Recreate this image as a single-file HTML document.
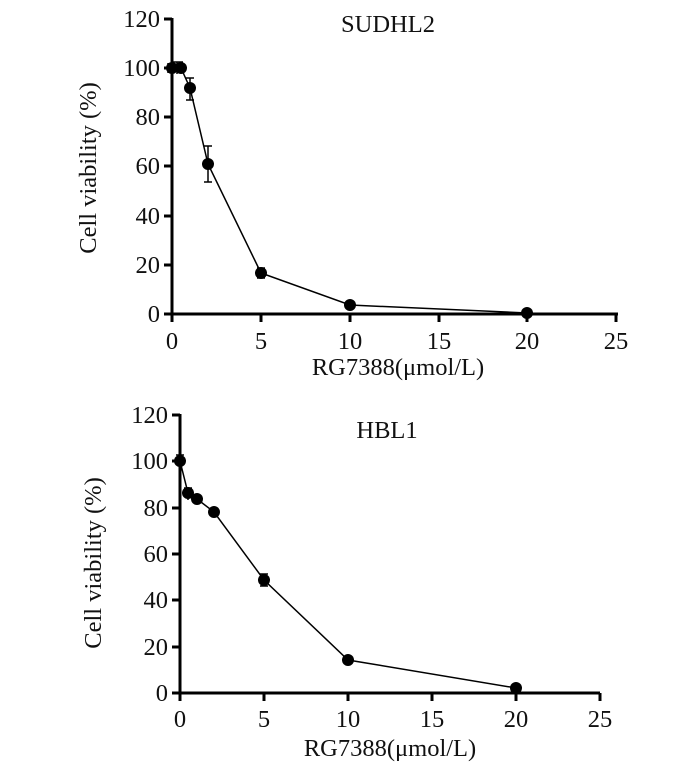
<!DOCTYPE html>
<html><head><meta charset="utf-8"><style>
html,body{margin:0;padding:0;background:#fff}
svg text{font-family:"Liberation Serif",serif;fill:#111}
</style></head><body>
<svg width="700" height="767" viewBox="0 0 700 767" xmlns="http://www.w3.org/2000/svg">
<g stroke="#000" stroke-width="3" fill="none">
<line x1="172" y1="18" x2="172" y2="316"/>
<line x1="170" y1="314" x2="618" y2="314"/>
<line x1="164" y1="19" x2="172" y2="19"/><line x1="164" y1="68" x2="172" y2="68"/>
<line x1="164" y1="117" x2="172" y2="117"/><line x1="164" y1="166" x2="172" y2="166"/>
<line x1="164" y1="216" x2="172" y2="216"/><line x1="164" y1="265" x2="172" y2="265"/>
<line x1="164" y1="314" x2="172" y2="314"/>
<line x1="172" y1="314" x2="172" y2="322"/><line x1="261" y1="314" x2="261" y2="322"/>
<line x1="350" y1="314" x2="350" y2="322"/><line x1="439" y1="314" x2="439" y2="322"/>
<line x1="527" y1="314" x2="527" y2="322"/><line x1="616" y1="314" x2="616" y2="322"/>
<line x1="180" y1="414" x2="180" y2="695"/>
<line x1="178" y1="693" x2="600" y2="693"/>
<line x1="172" y1="415" x2="180" y2="415"/><line x1="172" y1="461" x2="180" y2="461"/>
<line x1="172" y1="508" x2="180" y2="508"/><line x1="172" y1="554" x2="180" y2="554"/>
<line x1="172" y1="600" x2="180" y2="600"/><line x1="172" y1="647" x2="180" y2="647"/>
<line x1="172" y1="693" x2="180" y2="693"/>
<line x1="180" y1="693" x2="180" y2="701"/><line x1="264" y1="693" x2="264" y2="701"/>
<line x1="348" y1="693" x2="348" y2="701"/><line x1="432" y1="693" x2="432" y2="701"/>
<line x1="516" y1="693" x2="516" y2="701"/><line x1="600" y1="693" x2="600" y2="701"/>
</g>
<g stroke="#000" stroke-width="1.5" fill="none">
<polyline points="172,68 181,68 190,88 208,164 261,273 350,305 527,313"/>
<path d="M168,63v10 M177,62v12 M173,62h10 M190,78v22 M186,78h8 M186,100h8 M208,146v36 M204,146h8 M204,182h8 M261,268v10 M257,268h8 M257,278h8"/>
</g>
<g fill="#000">
<circle cx="172" cy="68" r="6"/><circle cx="181" cy="68" r="6"/><circle cx="190" cy="88" r="6"/>
<circle cx="208" cy="164" r="6"/><circle cx="261" cy="273" r="6"/><circle cx="350" cy="305" r="6"/><circle cx="527" cy="313" r="6"/>
</g>
<g stroke="#000" stroke-width="1.5" fill="none">
<polyline points="180,461 188,493 197,499 214,512 264,580 348,660 516,688"/>
<path d="M180,455v12 M176,455h8 M188,488v12 M184,488h8 M264,574v12 M260,574h8 M260,586h8"/>
</g>
<g fill="#000">
<circle cx="180" cy="461" r="6"/><circle cx="188" cy="493" r="6"/><circle cx="197" cy="499" r="6"/>
<circle cx="214" cy="512" r="6"/><circle cx="264" cy="580" r="6"/><circle cx="348" cy="660" r="6"/><circle cx="516" cy="688" r="6"/>
</g>
<g font-size="24.5" text-anchor="end">
<text x="160" y="27">120</text><text x="160" y="76">100</text><text x="160" y="125">80</text>
<text x="160" y="174">60</text><text x="160" y="224">40</text><text x="160" y="273">20</text><text x="160" y="322">0</text>
</g>
<g font-size="24.5" text-anchor="middle">
<text x="172" y="349">0</text><text x="261" y="349">5</text><text x="350" y="349">10</text>
<text x="439" y="349">15</text><text x="527" y="349">20</text><text x="616" y="349">25</text>
<text x="398" y="375">RG7388(μmol/L)</text>
<text x="388" y="32">SUDHL2</text>
<text transform="translate(96,168) rotate(-90)">Cell viability (%)</text>
</g>
<g font-size="24.5" text-anchor="end">
<text x="168" y="423">120</text><text x="168" y="469">100</text><text x="168" y="516">80</text>
<text x="168" y="562">60</text><text x="168" y="608">40</text><text x="168" y="655">20</text><text x="168" y="701">0</text>
</g>
<g font-size="24.5" text-anchor="middle">
<text x="180" y="727">0</text><text x="264" y="727">5</text><text x="348" y="727">10</text>
<text x="432" y="727">15</text><text x="516" y="727">20</text><text x="600" y="727">25</text>
<text x="390" y="756">RG7388(μmol/L)</text>
<text x="387" y="438">HBL1</text>
<text transform="translate(101,563) rotate(-90)">Cell viability (%)</text>
</g>
</svg>
</body></html>
